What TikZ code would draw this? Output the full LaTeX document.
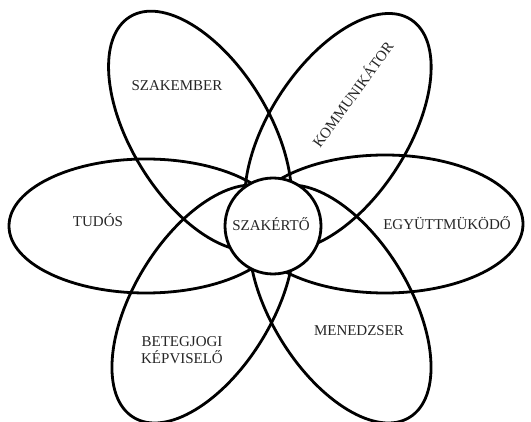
\documentclass[tikz,border=0pt]{standalone}
\usepackage{fontspec}
\setmainfont{Liberation Serif}
\begin{document}
\begin{tikzpicture}[x=1pt,y=-1pt,
  petal/.style={draw=black,line width=2.8pt},
  hub/.style={draw=black,line width=2.8pt,fill=white},
  lbl/.style={font=\fontsize{15}{17}\selectfont,inner sep=0pt,align=center,text=black!85}]
\useasboundingbox[fill=white] (0,0) rectangle (531,422);
% horizontal petals
\draw[petal] (146,226) ellipse [x radius=137, y radius=67];
\draw[petal] (385,224) ellipse [x radius=138, y radius=69];
% tilted petals
\draw[petal,rotate around={-58.5:(200,131)}] (200,131) ellipse [x radius=134, y radius=69];
\draw[petal,rotate around={57:(338,132)}] (338,132) ellipse [x radius=134, y radius=69];
\draw[petal,rotate around={58.5:(203,304)}] (203,304) ellipse [x radius=133, y radius=69];
\draw[petal,rotate around={-58.5:(340,304)}] (340,304) ellipse [x radius=133, y radius=69];
% centre
\draw[hub] (273,226) circle [radius=48];
\node[lbl] (center) at (271,224) {SZAKÉRTŐ};
\node[lbl] (szak) at (177,86) {SZAKEMBER};
\node[lbl,rotate=54] (komm) at (352,94) {KOMMUNIKÁTOR};
\node[lbl] (tudos) at (98,220) {TUDÓS};
\node[lbl] (egy) at (447,223) {EGYÜTTMÜKÖDŐ};
\node[lbl] (beteg) at (182,350) {BETEGJOGI\\KÉPVISELŐ};
\node[lbl] (men) at (359,331) {MENEDZSER};
\end{tikzpicture}
\end{document}
